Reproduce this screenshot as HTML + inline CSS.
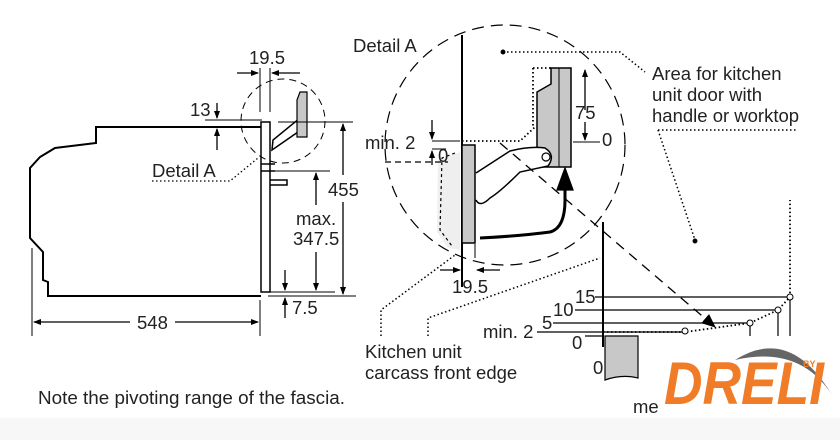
<!DOCTYPE html>
<html><head><style>
body{margin:0;background:#fff;}
svg{display:block;font-family:"Liberation Sans",sans-serif;}
</style></head><body>
<svg width="840" height="440" viewBox="0 0 840 440" xmlns="http://www.w3.org/2000/svg">
<defs>
<marker id="a" markerWidth="8" markerHeight="8" refX="7" refY="4" orient="auto" markerUnits="userSpaceOnUse"><path d="M0,1 L8,4 L0,7 Z" fill="#000"/></marker>
<marker id="b" markerWidth="14" markerHeight="14" refX="13" refY="7" orient="auto" markerUnits="userSpaceOnUse"><path d="M0,1 L14,7 L0,13 Z" fill="#000"/></marker>
</defs>
<rect x="0" y="418" width="840" height="22" fill="#f7f7f7"/>
<g fill="none" stroke="#000" stroke-width="1.3">
<path d="M261,127 L96,127 L96,143 L55,148 L40,157 L30,168 L30,238 L43,252 L43,280 L48,282 L48,296 L261,296" stroke-width="2"/>
<rect x="261" y="122" width="9" height="170" stroke-width="1.5"/>
<path d="M261,164 L275,164 M261,171 L275,171 M270,180 L287,180 L287,185 L270,185" stroke-width="1.5"/>
<path d="M272,150 L298,132 L303,128 L300,118 L273,140 Z" stroke-width="1.5"/>
<polygon points="300,92 307,92 307,137 297,137 297,100" fill="#c8c8c8" stroke-width="1.2"/>
<circle cx="283" cy="121" r="42" stroke-dasharray="7,5" stroke-width="1"/>
<path d="M278,122 L353,122 M268,296 L356,296 M275,171 L330,171 M205,120 L262,120 M268,292 L335,292" stroke-width="1"/>
<path d="M343,175 L343,124" marker-end="url(#a)"/><path d="M343,202 L343,294" marker-end="url(#a)"/>
<path d="M316,205 L316,173" marker-end="url(#a)"/><path d="M316,252 L316,290" marker-end="url(#a)"/>
<path d="M285,270 L285,290" marker-end="url(#a)"/><path d="M285,318 L285,298" marker-end="url(#a)"/>
<path d="M217,103 L217,118" marker-end="url(#a)"/><path d="M217,150 L217,129" marker-end="url(#a)"/>
<path d="M260,68 L260,112 M270,68 L270,112" stroke-width="1"/>
<path d="M237,73 L258,73" marker-end="url(#a)"/><path d="M300,73 L272,73" marker-end="url(#a)"/>
<path d="M32,248 L32,336 M260,300 L260,336" stroke-width="1"/>
<path d="M130,322 L34,322" marker-end="url(#a)"/><path d="M175,322 L258,322" marker-end="url(#a)"/>
<path d="M152,181 L230,181 L258,158" stroke-dasharray="1.5,2.5" stroke-width="1.3"/>
<circle cx="505" cy="145" r="120" stroke-dasharray="12,7" stroke-width="1.2"/>
<path d="M462,35 L462,287" stroke-width="2"/>
<rect x="462" y="145" width="13" height="98" fill="#c8c8c8" stroke-width="1.5"/>
<path d="M460,152 L438,160 L437,232 L448,248 L460,250 L460,152 Z" fill="#efefef" stroke="none"/>
<path d="M455,153 L442,158 L440,230 L452,246" stroke-dasharray="3,3" stroke-width="1.2"/>
<path d="M385,162 L448,162" stroke-dasharray="6,4" stroke-width="1.2"/>
<polygon points="551,68 571,68 571,167 537,167 537,92 551,84" fill="#c8c8c8" stroke-width="1.5"/>
<path d="M559,68 L559,167" stroke-width="1"/>
<path d="M533,68 L551,68 M533,68 L533,128 M462,141 L520,141 L535,127" stroke-dasharray="1.5,2.5" stroke-width="1.8"/>
<path d="M476,173 L510,151 Q530,146 545,148 Q556,155 548,166 L520,172 Q500,192 490,198 Q480,208 476,200" fill="#fff" stroke-width="1.5"/>
<circle cx="546" cy="157" r="4" fill="#fff" stroke-width="1.2"/>
<path d="M480,238 Q520,236 550,232 Q565,228 565,200 L565,188" stroke-width="3"/>
<path d="M557,190 L565,168 L573,190 Z" fill="#000"/>
<path d="M500,143 L715,327" stroke-dasharray="10,7" stroke-width="1.3" marker-end="url(#b)"/>
<path d="M585,110 L585,70" marker-end="url(#a)"/><path d="M585,122 L585,140" marker-end="url(#a)"/>
<path d="M573,142 L600,142 M432,141 L460,141 M432,149 L446,149" stroke-width="1"/>
<path d="M432,120 L432,139" marker-end="url(#a)"/><path d="M432,165 L432,151" marker-end="url(#a)"/>
<path d="M462,244 L462,258 M475,244 L475,258" stroke-width="1"/>
<path d="M440,270 L460,270" marker-end="url(#a)"/><path d="M500,270 L477,270" marker-end="url(#a)"/>
<path d="M503,52 L620,52 L645,72" stroke-dasharray="1.5,2.5" stroke-width="1.5"/>
<circle cx="503" cy="52" r="1.8" fill="#000"/>
<path d="M658,130 L797,130 M658,130 L695,240" stroke-dasharray="1.5,2.5" stroke-width="1.5"/>
<circle cx="695" cy="241" r="1.8" fill="#000"/>
<path d="M381,336 L381,310 L455,255" stroke-dasharray="1.5,2.5" stroke-width="1.5"/>
<path d="M428,336 L428,318 L600,258" stroke-dasharray="1.5,2.5" stroke-width="1.5"/>
<path d="M603,222 L603,347" stroke-width="2"/>
<path d="M595,297 L790,297 M575,310 L778,310 M553,323 L750,323 M537,332 L685,332 M585,336 L603,336" stroke-width="1.2"/>
<path d="M790,297 L790,338 M778,310 L778,338 M750,323 L750,338" stroke-width="1.2"/>
<path d="M603,332 L685,332 L750,323 L778,310 L790,297 L790,200" stroke-dasharray="1.5,2.5" stroke-width="1.8"/>
<circle cx="685" cy="331" r="3" fill="#fff" stroke-width="1"/>
<circle cx="750" cy="323" r="3" fill="#fff" stroke-width="1"/>
<circle cx="778" cy="310" r="3" fill="#fff" stroke-width="1"/>
<circle cx="790" cy="297" r="3" fill="#fff" stroke-width="1"/>
<path d="M605,336 L638,336 L638,378 Q622,374 605,380 Z" fill="#c8c8c8" stroke-width="1.2"/>
</g>
<g font-size="18.5" fill="#222">
<text x="249" y="64">19.5</text>
<text x="190" y="116">13</text>
<text x="152" y="177">Detail A</text>
<text x="328" y="196">455</text>
<text x="296" y="225">max.</text>
<text x="293" y="245">347.5</text>
<text x="292" y="314">7.5</text>
<text x="137" y="329">548</text>
<text x="353" y="52">Detail A</text>
<text x="652" y="80">Area for kitchen</text>
<text x="652" y="101">unit door with</text>
<text x="652" y="122">handle or worktop</text>
<text x="575" y="119">75</text>
<text x="602" y="146">0</text>
<text x="365" y="149">min. 2</text>
<text x="438" y="162">0</text>
<text x="452" y="293">19.5</text>
<text x="365" y="358">Kitchen unit</text>
<text x="365" y="379">carcass front edge</text>
<text x="575" y="303">15</text>
<text x="553" y="316">10</text>
<text x="542" y="329">5</text>
<text x="483" y="338">min. 2</text>
<text x="572" y="349">0</text>
<text x="593" y="374">0</text>
<text x="633" y="413">me</text>
<text x="38" y="404" textLength="307" lengthAdjust="spacingAndGlyphs">Note the pivoting range of the fascia.</text>
</g>
<rect x="660" y="336" width="172" height="70" fill="#fff"/>
<path d="M735,360 Q790,325 832,395 Q800,345 735,360 Z" fill="#666"/>
<text x="664" y="404" font-size="60" font-weight="bold" font-style="italic" fill="#f07c28" textLength="160" lengthAdjust="spacingAndGlyphs">DRELI</text>
<text x="803" y="367" font-size="9" font-weight="bold" fill="#f07c28">BY</text>
</svg>
</body></html>
